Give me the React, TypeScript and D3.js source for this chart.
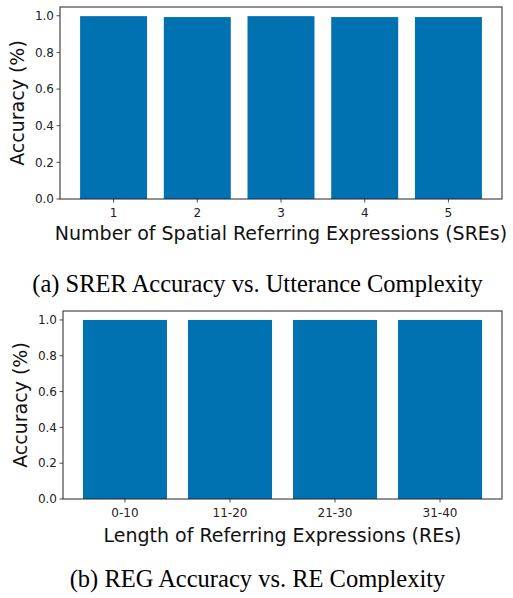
import React from 'react'
import * as d3 from 'd3'

const W = 513
const H = 598

// (a) SRER accuracy per number of SREs
const sreCategories = ['1', '2', '3', '4', '5']
const sreAccuracy = [0.998, 0.993, 0.998, 0.993, 0.993]

// (b) REG accuracy per RE length bucket
const reCategories = ['0-10', '11-20', '21-30', '31-40']
const reAccuracy = [1.0, 1.0, 1.0, 1.0]

const yTicks = [0, 0.2, 0.4, 0.6, 0.8, 1.0]

const BLUE = '#0072b2'
const SANS = 'DejaVu Sans, sans-serif'
const SERIF = 'Liberation Serif, Times New Roman, serif'

type PanelProps = {
    categories: string[]
    values: number[]
    box: { left: number; right: number; top: number; bottom: number }
    xLabel: string
    yLabelX: number
    tickY: number
    xLabelY: number
    caption: string
    captionY: number
}

function Panel({ categories, values, box, xLabel, yLabelX, tickY, xLabelY, caption, captionY }: PanelProps) {
    const n = categories.length
    // matplotlib-like margins: bars of width 0.8, 5% padding each side
    const span = (n - 1) + 0.8
    const pad = span * 0.05
    const x = d3.scaleLinear().domain([-0.4 - pad, n - 1 + 0.4 + pad]).range([box.left, box.right])
    const yMax = d3.max(values) ?? 1
    const y = d3.scaleLinear().domain([0, yMax * 1.05]).range([box.bottom, box.top])
    const bw = x(0.8) - x(0)

    return (
        <g>
            {values.map((v, i) => (
                <rect key={i} x={x(i - 0.4)} y={y(v)} width={bw} height={y(0) - y(v)} fill={BLUE} />
            ))}
            <rect x={box.left} y={box.top} width={box.right - box.left} height={box.bottom - box.top}
                fill="none" stroke="#222" strokeWidth={1} />
            {yTicks.map(t => (
                <g key={t} transform={`translate(0,${y(t)})`}>
                    <line x1={box.left - 3.5} x2={box.left} stroke="#222" strokeWidth={0.8} />
                    <text x={box.left - 6} dy="0.35em" textAnchor="end" fontFamily={SANS} fontSize={12} fill="#222">
                        {t.toFixed(1)}
                    </text>
                </g>
            ))}
            {categories.map((c, i) => (
                <g key={c} transform={`translate(${x(i)},0)`}>
                    <line y1={box.bottom} y2={box.bottom + 3.5} stroke="#222" strokeWidth={0.8} />
                    <text y={tickY} dy="0.35em" textAnchor="middle" fontFamily={SANS} fontSize={12} fill="#222">
                        {c}
                    </text>
                </g>
            ))}
            <text transform={`translate(${yLabelX},${(box.top + box.bottom) / 2}) rotate(-90)`}
                dy="0.35em" textAnchor="middle" fontFamily={SANS} fontSize={19} fill="#111">
                Accuracy (%)
            </text>
            <text x={(box.left + box.right) / 2} y={xLabelY} dy="0.35em" textAnchor="middle"
                fontFamily={SANS} fontSize={19} fill="#111">
                {xLabel}
            </text>
            <text x={W / 2 + 1} y={captionY} dy="0.35em" textAnchor="middle" fontFamily={SERIF} fontSize={24.5} fill="#000">
                {caption}
            </text>
        </g>
    )
}

export default function App() {
    return (
        <svg width={W} height={H} style={{ position: 'absolute', left: 0, top: 0, background: '#fff' }}>
            <Panel
                categories={sreCategories}
                values={sreAccuracy}
                box={{ left: 60, right: 502, top: 7, bottom: 199 }}
                xLabel="Number of Spatial Referring Expressions (SREs)"
                yLabelX={17}
                tickY={213}
                xLabelY={233}
                caption="(a) SRER Accuracy vs. Utterance Complexity"
                captionY={283}
            />
            <Panel
                categories={reCategories}
                values={reAccuracy}
                box={{ left: 63, right: 502, top: 311, bottom: 499 }}
                xLabel="Length of Referring Expressions (REs)"
                yLabelX={20}
                tickY={513}
                xLabelY={535}
                caption="(b) REG Accuracy vs. RE Complexity"
                captionY={578}
            />
        </svg>
    )
}
